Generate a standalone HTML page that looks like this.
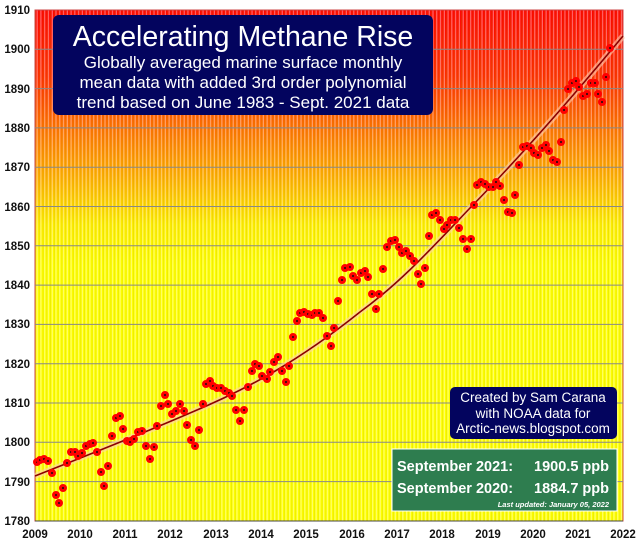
<!DOCTYPE html>
<html><head><meta charset="utf-8"><style>
body{margin:0;background:#fff;width:640px;height:543px;overflow:hidden;font-family:"Liberation Sans",sans-serif}
</style></head><body>
<svg width="640" height="543" xmlns="http://www.w3.org/2000/svg" font-family="Liberation Sans, sans-serif">
<defs>
<linearGradient id="bg" x1="0" y1="0" x2="0" y2="1">
<stop offset="0" stop-color="#ff0000"/>
<stop offset="0.13" stop-color="#ff2a00"/>
<stop offset="0.25" stop-color="#ff7a00"/>
<stop offset="0.33" stop-color="#ffae00"/>
<stop offset="0.42" stop-color="#ffee00"/>
<stop offset="0.5" stop-color="#ffff00"/>
<stop offset="1" stop-color="#ffff00"/>
</linearGradient>
<pattern id="st" x="35" y="0" width="3.77" height="10" patternUnits="userSpaceOnUse">
<rect x="1.6" y="0" width="1.1" height="10" fill="#fff" opacity="0.45"/>
<rect x="0.2" y="0" width="0.7" height="10" fill="#a0a000" opacity="0.25"/>
</pattern>
</defs>
<rect x="35" y="10" width="588" height="511" fill="url(#bg)"/>
<rect x="35" y="10" width="588" height="511" fill="url(#st)"/>
<rect x="35" y="10" width="588" height="511" fill="none" stroke="#c44" stroke-width="1"/>
<g stroke="#888" stroke-width="1">
<line x1="35" x2="623" y1="49.3" y2="49.3"/><line x1="35" x2="623" y1="88.6" y2="88.6"/>
<line x1="35" x2="623" y1="127.9" y2="127.9"/><line x1="35" x2="623" y1="167.2" y2="167.2"/>
<line x1="35" x2="623" y1="206.5" y2="206.5"/><line x1="35" x2="623" y1="245.8" y2="245.8"/>
<line x1="35" x2="623" y1="285.1" y2="285.1"/><line x1="35" x2="623" y1="324.4" y2="324.4"/>
<line x1="35" x2="623" y1="363.7" y2="363.7"/><line x1="35" x2="623" y1="403" y2="403"/>
<line x1="35" x2="623" y1="442.3" y2="442.3"/><line x1="35" x2="623" y1="481.6" y2="481.6"/>
</g>
<line x1="35" x2="623" y1="521" y2="521" stroke="#444" stroke-width="1"/>
<g font-size="11.5" font-weight="bold" fill="#111" text-anchor="end">
<text x="30" y="14">1910</text><text x="30" y="53">1900</text><text x="30" y="93">1890</text>
<text x="30" y="132">1880</text><text x="30" y="171">1870</text><text x="30" y="211">1860</text>
<text x="30" y="250">1850</text><text x="30" y="289">1840</text><text x="30" y="328">1830</text>
<text x="30" y="368">1820</text><text x="30" y="407">1810</text><text x="30" y="446">1800</text>
<text x="30" y="486">1790</text><text x="30" y="525">1780</text>
</g>
<g font-size="11.5" font-weight="bold" fill="#111" text-anchor="middle">
<text x="35" y="538">2009</text><text x="80" y="538">2010</text><text x="125" y="538">2011</text>
<text x="170" y="538">2012</text><text x="216" y="538">2013</text><text x="261" y="538">2014</text>
<text x="306" y="538">2015</text><text x="352" y="538">2016</text><text x="397" y="538">2017</text>
<text x="442" y="538">2018</text><text x="488" y="538">2019</text><text x="533" y="538">2020</text>
<text x="578" y="538">2021</text><text x="623" y="538">2022</text>
</g>
<path d="M35,476 C80,458 125,441 190,413 C250,388 300,360 360,312 C400,283 430,250 470,208 C520,157 570,100 623,36" fill="none" stroke="#ffd0b0" stroke-width="6" opacity="0.6"/>
<path d="M35,476 C80,458 125,441 190,413 C250,388 300,360 360,312 C400,283 430,250 470,208 C520,157 570,100 623,36" fill="none" stroke="#8b0000" stroke-width="1.6"/>
<g fill="#111" stroke="#f00" stroke-width="3">
<circle cx="37" cy="462" r="2.5"/><circle cx="40" cy="460" r="2.5"/><circle cx="44" cy="459" r="2.5"/><circle cx="48" cy="461" r="2.5"/><circle cx="52" cy="473" r="2.5"/><circle cx="56" cy="495" r="2.5"/><circle cx="59" cy="503" r="2.5"/><circle cx="63" cy="488" r="2.5"/><circle cx="67" cy="463" r="2.5"/><circle cx="71" cy="452" r="2.5"/><circle cx="75" cy="452" r="2.5"/><circle cx="78" cy="456" r="2.5"/><circle cx="82" cy="453" r="2.5"/><circle cx="86" cy="446" r="2.5"/><circle cx="90" cy="444" r="2.5"/><circle cx="93" cy="443" r="2.5"/><circle cx="97" cy="452" r="2.5"/><circle cx="101" cy="472" r="2.5"/><circle cx="104" cy="486" r="2.5"/><circle cx="108" cy="466" r="2.5"/><circle cx="112" cy="436" r="2.5"/><circle cx="116" cy="418" r="2.5"/><circle cx="120" cy="416" r="2.5"/><circle cx="123" cy="429" r="2.5"/><circle cx="127" cy="441" r="2.5"/><circle cx="130" cy="442" r="2.5"/><circle cx="134" cy="439" r="2.5"/><circle cx="138" cy="432" r="2.5"/><circle cx="142" cy="431" r="2.5"/><circle cx="146" cy="446" r="2.5"/><circle cx="150" cy="459" r="2.5"/><circle cx="154" cy="447" r="2.5"/><circle cx="157" cy="426" r="2.5"/><circle cx="161" cy="406" r="2.5"/><circle cx="165" cy="395" r="2.5"/><circle cx="168" cy="404" r="2.5"/><circle cx="172" cy="414" r="2.5"/><circle cx="176" cy="411" r="2.5"/><circle cx="180" cy="404" r="2.5"/><circle cx="184" cy="411" r="2.5"/><circle cx="187" cy="425" r="2.5"/><circle cx="191" cy="440" r="2.5"/><circle cx="195" cy="446" r="2.5"/><circle cx="199" cy="430" r="2.5"/><circle cx="203" cy="404" r="2.5"/><circle cx="206" cy="384" r="2.5"/><circle cx="210" cy="381" r="2.5"/><circle cx="213" cy="386" r="2.5"/><circle cx="217" cy="388" r="2.5"/><circle cx="221" cy="388" r="2.5"/><circle cx="225" cy="391" r="2.5"/><circle cx="229" cy="393" r="2.5"/><circle cx="232" cy="396" r="2.5"/><circle cx="236" cy="410" r="2.5"/><circle cx="240" cy="421" r="2.5"/><circle cx="244" cy="410" r="2.5"/><circle cx="248" cy="387" r="2.5"/><circle cx="252" cy="371" r="2.5"/><circle cx="255" cy="364" r="2.5"/><circle cx="259" cy="366" r="2.5"/><circle cx="262" cy="376" r="2.5"/><circle cx="267" cy="379" r="2.5"/><circle cx="270" cy="372" r="2.5"/><circle cx="274" cy="362" r="2.5"/><circle cx="278" cy="357" r="2.5"/><circle cx="282" cy="371" r="2.5"/><circle cx="286" cy="382" r="2.5"/><circle cx="289" cy="366" r="2.5"/><circle cx="293" cy="337" r="2.5"/><circle cx="297" cy="321" r="2.5"/><circle cx="300" cy="313" r="2.5"/><circle cx="304" cy="312" r="2.5"/><circle cx="308" cy="314" r="2.5"/><circle cx="312" cy="315" r="2.5"/><circle cx="315" cy="313" r="2.5"/><circle cx="319" cy="313" r="2.5"/><circle cx="323" cy="318" r="2.5"/><circle cx="327" cy="336" r="2.5"/><circle cx="331" cy="346" r="2.5"/><circle cx="334" cy="328" r="2.5"/><circle cx="338" cy="301" r="2.5"/><circle cx="342" cy="280" r="2.5"/><circle cx="345" cy="268" r="2.5"/><circle cx="350" cy="267" r="2.5"/><circle cx="353" cy="276" r="2.5"/><circle cx="357" cy="280" r="2.5"/><circle cx="361" cy="273" r="2.5"/><circle cx="365" cy="271" r="2.5"/><circle cx="368" cy="277" r="2.5"/><circle cx="372" cy="294" r="2.5"/><circle cx="376" cy="309" r="2.5"/><circle cx="379" cy="294" r="2.5"/><circle cx="383" cy="269" r="2.5"/><circle cx="387" cy="247" r="2.5"/><circle cx="391" cy="241" r="2.5"/><circle cx="395" cy="240" r="2.5"/><circle cx="399" cy="247" r="2.5"/><circle cx="402" cy="253" r="2.5"/><circle cx="406" cy="251" r="2.5"/><circle cx="410" cy="256" r="2.5"/><circle cx="414" cy="261" r="2.5"/><circle cx="418" cy="274" r="2.5"/><circle cx="421" cy="284" r="2.5"/><circle cx="425" cy="268" r="2.5"/><circle cx="429" cy="236" r="2.5"/><circle cx="432" cy="215" r="2.5"/><circle cx="436" cy="213" r="2.5"/><circle cx="440" cy="220" r="2.5"/><circle cx="444" cy="229" r="2.5"/><circle cx="447" cy="225" r="2.5"/><circle cx="451" cy="220" r="2.5"/><circle cx="455" cy="220" r="2.5"/><circle cx="459" cy="228" r="2.5"/><circle cx="463" cy="239" r="2.5"/><circle cx="467" cy="249" r="2.5"/><circle cx="471" cy="239" r="2.5"/><circle cx="474" cy="205" r="2.5"/><circle cx="477" cy="185" r="2.5"/><circle cx="481" cy="182" r="2.5"/><circle cx="485" cy="184" r="2.5"/><circle cx="489" cy="187" r="2.5"/><circle cx="493" cy="187" r="2.5"/><circle cx="496" cy="182" r="2.5"/><circle cx="500" cy="186" r="2.5"/><circle cx="504" cy="200" r="2.5"/><circle cx="508" cy="212" r="2.5"/><circle cx="512" cy="213" r="2.5"/><circle cx="515" cy="195" r="2.5"/><circle cx="519" cy="165" r="2.5"/><circle cx="523" cy="147" r="2.5"/><circle cx="527" cy="146" r="2.5"/><circle cx="531" cy="148" r="2.5"/><circle cx="534" cy="153" r="2.5"/><circle cx="538" cy="155" r="2.5"/><circle cx="542" cy="148" r="2.5"/><circle cx="546" cy="145" r="2.5"/><circle cx="549" cy="151" r="2.5"/><circle cx="553" cy="160" r="2.5"/><circle cx="557" cy="162" r="2.5"/><circle cx="561" cy="142" r="2.5"/><circle cx="564" cy="110" r="2.5"/><circle cx="568" cy="89" r="2.5"/><circle cx="572" cy="83" r="2.5"/><circle cx="576" cy="81" r="2.5"/><circle cx="579" cy="87" r="2.5"/><circle cx="583" cy="96" r="2.5"/><circle cx="587" cy="94" r="2.5"/><circle cx="591" cy="83" r="2.5"/><circle cx="595" cy="83" r="2.5"/><circle cx="598" cy="94" r="2.5"/><circle cx="602" cy="102" r="2.5"/><circle cx="606" cy="77" r="2.5"/><circle cx="610" cy="48" r="2.5"/>
</g>
<rect x="53" y="15" width="380" height="100" rx="6" fill="#03045e"/>
<g fill="#fff" text-anchor="middle">
<text x="243" y="46" font-size="28.5">Accelerating Methane Rise</text>
<text x="243" y="68" font-size="17">Globally averaged marine surface monthly</text>
<text x="243" y="88" font-size="17">mean data with added 3rd order polynomial</text>
<text x="243" y="108" font-size="17">trend based on June 1983 - Sept. 2021 data</text>
</g>
<rect x="450" y="387" width="167" height="52" rx="5" fill="#03045e"/>
<g fill="#fff" text-anchor="middle" font-size="13.5">
<text x="533" y="402">Created by Sam Carana</text>
<text x="533" y="418">with NOAA data for</text>
<text x="533" y="433">Arctic-news.blogspot.com</text>
</g>
<rect x="392" y="449" width="225" height="62" fill="#2e7d4f" stroke="#fff" stroke-width="1"/>
<g fill="#fff" font-size="14.5" font-weight="bold">
<text x="397" y="471">September 2021:</text><text x="609" y="471" text-anchor="end">1900.5 ppb</text>
<text x="397" y="493">September 2020:</text><text x="609" y="493" text-anchor="end">1884.7 ppb</text>
<text x="609" y="507" text-anchor="end" font-size="7.5" font-style="italic">Last updated: January 05, 2022</text>
</g>
</svg>
</body></html>
